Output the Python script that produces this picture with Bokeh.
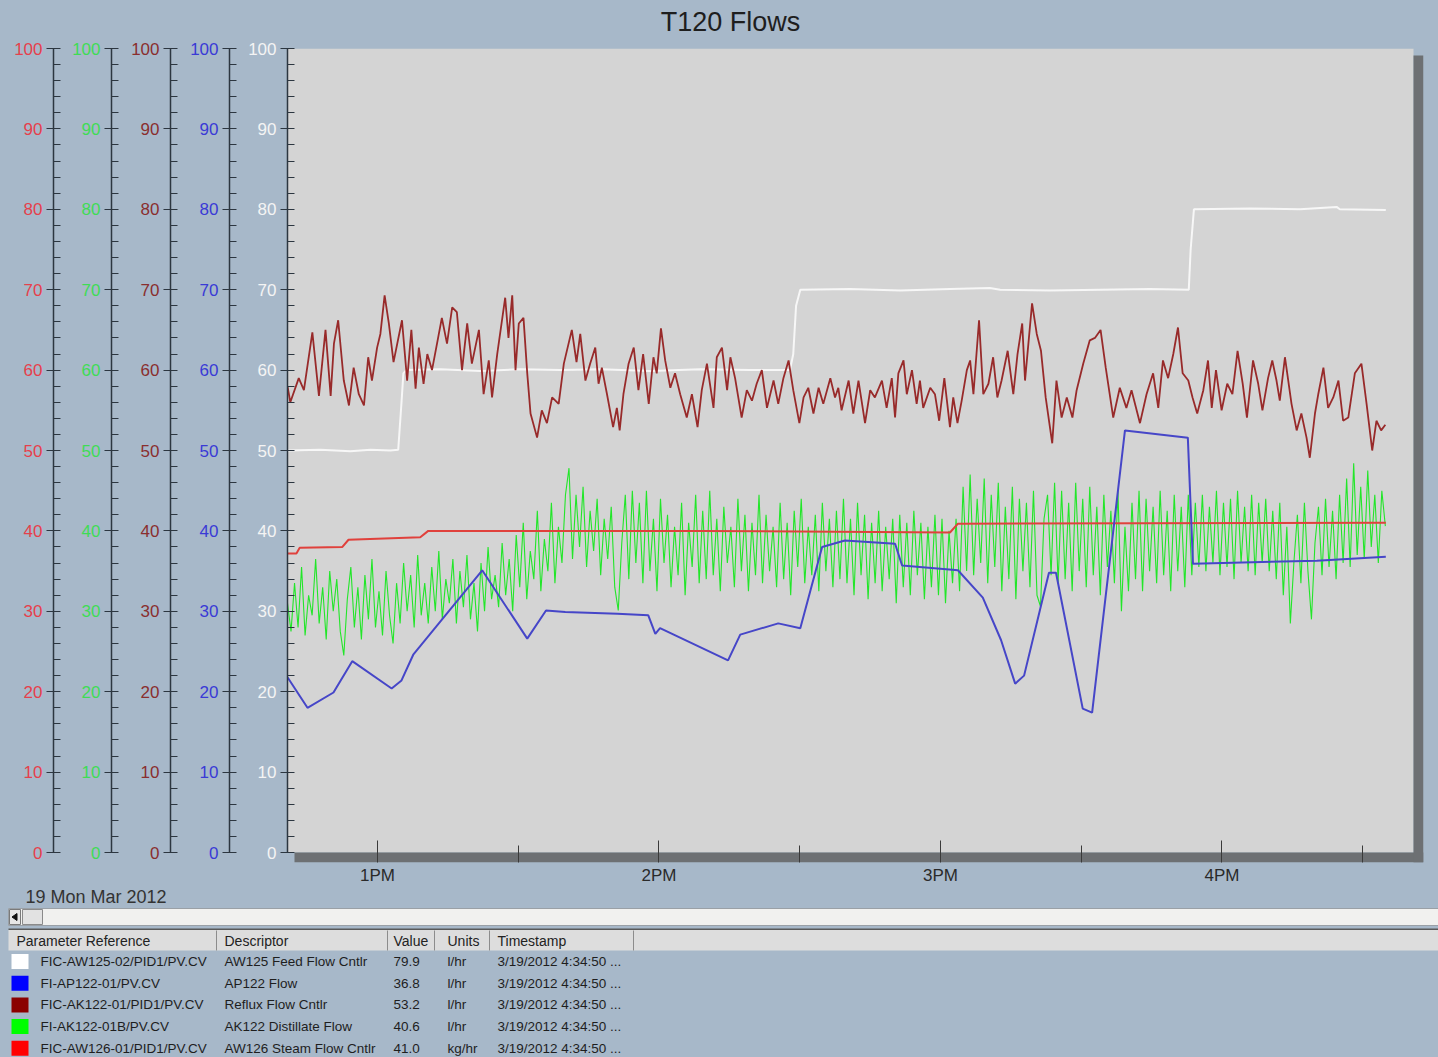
import numpy as np
from bokeh.plotting import figure
from bokeh.layouts import column, row
from bokeh.models import Range1d, FixedTicker, BoxAnnotation
from bokeh.embed import file_html
from bokeh.resources import INLINE
from bokeh.core.properties import value

# ------------------------------------------------------------------ data
chart_title = "T120 Flows"
date_text = "19 Mon Mar 2012"

START_HOUR = 12 + 40 / 60 + 50 / 3600     # 12:40:50, left edge of the window
WINDOW_HOURS = 4.0

# AW125 Feed Flow Cntlr (white)  - minutes after window start / value
feed_min = [0, 7.0, 13.4, 17.7, 21.9, 23.6, 24.3, 24.7, 25.3, 32.6, 41.1, 49.6, 58.1, 66.7, 77.3,
            88.0, 98.6, 107.1, 107.8, 108.4, 109.3, 119.9, 130.6, 141.2, 149.7, 151.9, 162.5,
            173.2, 183.8, 192.1, 192.5, 193.2, 205.1, 215.8, 223.6, 224.3, 234.1]
feed_val = [50.0, 50.1, 49.9, 50.1, 50.0, 50.1, 56.0, 59.6, 60.0, 60.1, 59.9, 60.1, 60.0, 60.1, 59.9,
            60.1, 60.0, 60.0, 62.0, 68.0, 70.0, 70.1, 69.9, 70.1, 70.2, 70.0, 69.9,
            70.0, 70.1, 70.0, 75.0, 80.0, 80.1, 80.0, 80.3, 80.0, 79.9]

# AP122 Flow (blue)
ap122_min = [0, 4.26, 9.8, 13.8, 22.2, 24.3, 26.8, 41.5, 51.1, 55.1, 59.2, 70.3, 76.9, 78.4, 79.4,
             93.9, 96.5, 104.6, 109.3, 113.95, 118.8, 129.5, 131.0, 142.9, 148.2, 152.1, 155.1,
             157.0, 162.3, 163.8, 169.5, 171.5, 178.5, 191.9, 193.0, 219.4, 234.1]
ap122_val = [21.8, 18.0, 19.9, 23.8, 20.4, 21.4, 24.6, 35.1, 26.6, 30.1, 29.9, 29.7, 29.5, 27.2, 27.9,
             23.9, 27.1, 28.5, 27.9, 38.0, 38.8, 38.4, 35.7, 35.1, 31.7, 26.4, 21.0,
             22.0, 34.8, 34.8, 17.9, 17.4, 52.5, 51.6, 35.9, 36.3, 36.8]

# Reflux Flow Cntlr (dark red)
reflux_min = [0.0, 0.6, 2.4, 3.5, 5.3, 6.7, 8.1, 9.2, 9.9, 10.8, 12.0, 13.1, 14.1, 15.2, 16.3, 17.2,
              18.0, 19.1, 19.8, 20.7, 21.6, 22.6, 24.4, 25.5, 26.4, 27.3, 28.0, 29.0, 29.8, 30.8,
              32.1, 32.9, 34.0, 35.1, 36.1, 37.2, 38.3, 39.3, 40.8, 41.8, 42.9, 43.6, 44.7, 46.4,
              47.1, 47.9, 48.6, 49.3, 50.3, 51.1, 51.8, 53.2, 54.2, 55.3, 56.4, 57.8, 58.9,
              60.6, 61.6, 62.4, 63.5, 64.5, 65.6, 66.3, 67.0, 68.1, 69.4, 70.2, 70.8, 71.6, 72.7,
              73.8, 74.8, 75.8, 77.0, 78.0, 78.7, 79.6, 80.5, 81.6, 82.6, 83.7, 85.1, 86.2, 87.4,
              88.3, 89.4, 90.8, 91.5, 92.6, 93.7, 94.4, 95.4, 96.8, 97.9, 99.0, 100.0, 101.1, 102.2,
              103.6, 104.6, 105.7, 106.8, 107.8, 109.1, 110.0, 111.0, 112.1, 113.2, 114.2, 115.7, 116.7,
              117.4, 118.1, 119.6, 120.6, 121.7, 123.1, 124.2, 125.2, 126.7, 127.7, 128.8, 129.5,
              130.2, 131.3, 132.0, 133.1, 134.1, 134.8, 135.5, 137.0, 138.0, 138.9, 140.0, 141.2,
              141.9, 142.8, 143.7, 144.8, 145.5, 146.2, 147.4, 148.3, 149.4, 150.4, 151.3, 152.2,
              153.5, 154.7, 155.6, 156.6, 157.2, 158.7, 159.7, 160.6, 161.6, 163.0, 163.9, 165.0,
              166.1, 167.3, 168.2, 169.6, 171.0, 172.1, 173.3, 174.4, 176.0,
              177.4, 178.8, 179.9, 181.7, 183.1, 184.5, 185.6, 186.6, 187.7, 188.8, 189.8, 190.8,
              192.0, 192.9, 193.9, 195.2, 196.2, 197.0, 197.9, 199.1, 200.3, 201.4, 202.5, 203.6,
              204.5, 205.8, 206.9, 207.8, 209.0, 209.9, 210.8, 211.5, 212.6, 214.0, 215.1, 216.1,
              217.2, 217.9, 219.0, 219.7, 220.8, 221.8, 222.9, 224.0, 225.0, 226.1, 227.5, 228.9,
              230.0, 231.2, 232.1, 233.1, 234.0]
reflux_val = [58.0, 56.0, 59.0, 57.5, 64.7, 56.8, 65.0, 56.8, 63.3, 66.2, 58.7, 55.6, 60.3, 57.0, 55.6, 61.6,
              58.7, 62.8, 64.5, 69.3, 65.8, 61.0, 66.2, 58.7, 65.0, 57.7, 62.8, 58.3, 62.0, 60.0,
              64.0, 66.5, 63.3, 67.8, 67.2, 60.0, 65.8, 60.8, 65.0, 57.0, 61.2, 56.6, 62.0, 69.0,
              64.0, 69.3, 60.0, 65.8, 66.5, 59.6, 54.6, 51.6, 55.0, 53.4, 56.6, 55.8, 60.8,
              65.0, 61.0, 64.5, 58.7, 60.8, 62.8, 58.3, 60.3, 57.0, 52.9, 55.3, 52.5, 57.0, 60.8,
              62.8, 57.5, 62.0, 55.8, 61.6, 59.6, 65.2, 61.2, 57.8, 59.6, 57.0, 54.1, 57.0, 52.9,
              57.5, 60.8, 55.3, 61.6, 62.8, 57.5, 61.6, 59.0, 54.1, 57.5, 56.2, 58.3, 60.0, 55.3,
              58.7, 55.8, 59.0, 61.2, 57.5, 53.4, 56.6, 57.8, 54.6, 57.8, 55.8, 59.0, 56.6,
              57.8, 55.0, 58.7, 54.6, 58.7, 53.4, 57.5, 56.6, 58.7, 55.3, 59.0, 54.1,
              59.6, 61.2, 57.0, 60.0, 55.8, 58.7, 55.3, 57.8, 57.0, 53.7, 59.0, 52.9,
              56.6, 53.4, 56.2, 60.0, 61.2, 57.0, 66.2, 57.0, 58.3, 61.6, 56.6, 58.7,
              62.4, 57.0, 62.0, 65.8, 58.7, 68.3, 64.5, 62.4, 56.6, 50.9, 58.7, 54.1,
              56.6, 54.1, 57.5, 60.8, 63.7, 64.0, 65.0, 60.3, 54.1,
              57.8, 55.3, 57.5, 53.4, 57.0, 59.6, 55.3, 61.2, 59.0, 62.0, 65.3, 59.6,
              58.7, 56.6, 54.6, 57.5, 61.2, 55.3, 60.0, 55.0, 58.3, 57.0, 62.4, 58.3,
              54.1, 61.2, 58.3, 55.0, 59.0, 61.2, 58.7, 56.2, 61.6, 55.8, 52.5, 54.6,
              51.6, 49.1, 54.6, 57.0, 60.3, 55.3, 56.6, 58.7, 53.7, 54.1, 59.6, 60.8,
              55.8, 50.0, 53.7, 52.5, 53.2]

# AK122 Distillate Flow (green) - one reading every 45 s from window start
distillate_step_min = 0.75
distillate_val = [
    31.0, 27.5, 33.5, 28.0, 35.5, 27.0, 32.0, 29.5, 36.5, 28.5, 33.0, 26.5, 35.0, 30.0, 34.0, 27.5, 24.5, 31.5, 35.5, 28.0,
    33.0, 26.5, 34.5, 29.0, 36.5, 28.0, 32.5, 27.0, 35.0, 29.5, 26.0, 33.5, 28.5, 36.0, 30.0, 34.5, 28.0, 37.0, 29.5, 33.5,
    28.5, 35.5, 30.0, 37.5, 29.0, 34.0, 31.0, 36.5, 28.5, 35.0, 30.5, 37.0, 29.0, 33.5, 27.5, 36.0, 30.0, 38.0, 31.5, 34.5,
    30.5, 38.5, 32.0, 36.5, 30.0, 39.5, 33.0, 41.0, 31.5, 37.5, 34.0, 42.5, 32.5, 39.0, 35.0, 43.5, 33.5, 40.5, 36.0, 44.5,
    47.8, 36.5, 44.5, 38.0, 45.5, 35.5, 42.5, 37.5, 44.0, 34.5, 41.5, 36.5, 43.0, 33.0, 30.1, 38.5, 44.5, 34.0, 45.0, 36.0,
    43.5, 33.5, 45.0, 35.0, 41.5, 32.5, 44.0, 36.0, 42.0, 33.0, 40.5, 34.5, 43.5, 32.0, 41.0, 35.5, 44.5, 33.5, 42.5, 34.0,
    45.0, 34.5, 41.5, 32.5, 43.0, 36.0, 40.5, 33.0, 44.0, 35.0, 42.0, 32.5, 41.0, 34.5, 44.5, 33.5, 42.0, 35.0, 40.5, 33.0,
    43.5, 34.0, 41.0, 32.0, 42.5, 35.5, 44.0, 33.5, 40.5, 34.5, 42.0, 32.5, 43.5, 35.0, 41.5, 33.0, 42.5, 34.0, 44.0, 33.5,
    41.5, 32.0, 43.5, 34.5, 42.0, 31.5, 41.0, 33.5, 42.5, 32.5, 40.5, 34.0, 41.5, 31.0, 42.0, 33.0, 41.0, 32.0, 42.5, 34.5,
    41.0, 31.5, 40.5, 33.0, 42.0, 32.0, 41.5, 31.0, 40.0, 33.5, 41.5, 32.5, 45.5, 35.0, 47.0, 34.5, 44.0, 36.0, 46.5, 33.5,
    44.5, 35.5, 46.0, 32.5, 43.0, 34.0, 45.5, 31.5, 44.0, 35.0, 43.5, 33.0, 45.0, 32.0, 30.6, 41.5, 44.5, 34.5, 46.0, 33.5,
    45.0, 34.0, 43.5, 32.5, 46.0, 35.0, 44.0, 33.0, 45.5, 34.5, 43.0, 32.0, 44.5, 35.5, 42.5, 33.5, 45.0, 30.0, 40.5, 32.5,
    43.5, 34.0, 45.0, 32.5, 44.0, 35.0, 43.0, 33.5, 45.0, 34.5, 42.5, 32.5, 44.5, 35.0, 43.0, 33.0, 44.5, 34.5, 43.5, 35.5,
    44.5, 35.0, 43.0, 36.0, 45.0, 34.5, 43.5, 35.5, 44.0, 34.0, 45.0, 36.0, 43.0, 35.0, 44.5, 34.5, 43.5, 36.0, 44.0, 35.0,
    42.5, 34.0, 43.5, 32.0, 40.5, 28.5, 36.0, 42.0, 33.5, 43.5, 35.0, 29.0, 38.5, 43.0, 34.5, 44.0, 35.5, 42.5, 34.0, 44.5,
    36.0, 46.5, 35.5, 48.4, 37.0, 45.5, 36.5, 47.5, 38.0, 44.5, 36.0, 45.0, 40.6]

# AW126 Steam Flow Cntlr (red)
steam_min = [0, 1.9, 2.6, 11.7, 13.0, 28.3, 30.0, 88.0, 141.2, 142.9, 234.1]
steam_val = [37.2, 37.2, 37.9, 38.0, 38.9, 39.2, 40.0, 40.0, 39.8, 40.9, 41.0]

x_ticks = [13, 14, 15, 16]
x_tick_labels = ["1PM", "2PM", "3PM", "4PM"]
x_minor_ticks = [13.5, 14.5, 15.5, 16.5]
y_ticks = list(range(0, 101, 10))
y_minor_ticks = list(range(0, 101, 2))

table_headers = ["Parameter Reference", "Descriptor", "Value", "Units", "Timestamp"]
legend_refs = ["FIC-AW125-02/PID1/PV.CV", "FI-AP122-01/PV.CV", "FIC-AK122-01/PID1/PV.CV",
               "FI-AK122-01B/PV.CV", "FIC-AW126-01/PID1/PV.CV"]
legend_desc = ["AW125 Feed Flow Cntlr", "AP122 Flow", "Reflux Flow Cntlr",
               "AK122 Distillate Flow", "AW126 Steam Flow Cntlr"]
legend_value = ["79.9", "36.8", "53.2", "40.6", "41.0"]
legend_units = ["l/hr", "l/hr", "l/hr", "l/hr", "kg/hr"]
legend_time = ["3/19/2012 4:34:50 ..."] * 5
legend_swatch = ["#ffffff", "#0000ff", "#8b0000", "#00ff00", "#ff0000"]

# ------------------------------------------------------------------ style
FONT = "Liberation Sans"
BG = "#a7b8c9"
PLOT_BG = "#d4d4d4"
SHADOW = "#6d7073"
AXIS = "#2c3640"

PX_PER_H = 1126 / WINDOW_HOURS
PX_PER_UNIT = 8.04
Y_BOTTOM = -10 / PX_PER_UNIT
yr = Range1d(Y_BOTTOM, 100)
TITLE_H = 38
ROW_H = 850
TOP_PAD = 10


def hours(mins):
    return [START_HOUR + m / 60 for m in mins]


def style_yaxis(ax, color):
    ax.ticker = FixedTicker(ticks=y_ticks, minor_ticks=y_minor_ticks)
    ax.bounds = (0, 100)
    ax.axis_line_color = AXIS
    ax.axis_line_width = 1.5
    ax.major_tick_line_color = AXIS
    ax.minor_tick_line_color = AXIS
    ax.major_tick_line_width = 1.2
    ax.major_tick_in = 5
    ax.major_tick_out = 7
    ax.minor_tick_in = 7
    ax.minor_tick_out = 0
    ax.major_label_standoff = 4
    ax.major_label_text_color = color
    ax.major_label_text_font = FONT
    ax.major_label_text_font_size = "17px"


def axis_fig(width, border, color):
    f = figure(width=width, height=ROW_H, x_range=Range1d(0, 1), y_range=yr,
               x_axis_location=None, output_backend="svg", toolbar_location=None,
               min_border_left=border, min_border_right=0, min_border_top=TOP_PAD, min_border_bottom=26,
               background_fill_color=BG, border_fill_color=BG, outline_line_color=None)
    for g in f.grid:
        g.visible = False
    style_yaxis(f.yaxis[0], color)
    return f


red_fig = axis_fig(63, 53, "#e6404c")
green_fig = axis_fig(58, 48, "#3fdc55")
dred_fig = axis_fig(59, 49, "#8a2e2e")
blue_fig = axis_fig(59, 49, "#3a3ad6")

x_end = START_HOUR + 1136 / PX_PER_H
main = figure(width=1199, height=ROW_H, x_range=Range1d(START_HOUR, x_end), y_range=yr,
              output_backend="svg", toolbar_location=None,
              min_border_left=48, min_border_right=15, min_border_top=TOP_PAD, min_border_bottom=26,
              background_fill_color=BG, border_fill_color=BG, outline_line_color=None)
for g in main.grid:
    g.visible = False
style_yaxis(main.yaxis[0], "#f4f4f4")

xa = main.xaxis[0]
xa.ticker = FixedTicker(ticks=x_ticks, minor_ticks=x_minor_ticks)
xa.major_label_overrides = dict(zip(x_ticks, x_tick_labels))
xa.axis_line_color = None
xa.major_tick_line_color = "#3a3a3a"
xa.minor_tick_line_color = "#3a3a3a"
xa.major_tick_in = 22
xa.major_tick_out = 0
xa.minor_tick_in = 17
xa.minor_tick_out = 0
xa.major_label_standoff = 3
xa.major_label_text_font = FONT
xa.major_label_text_font_size = "17px"
xa.major_label_text_color = "#2a2a2a"

main.add_layout(BoxAnnotation(right=START_HOUR + WINDOW_HOURS, bottom=0, fill_color=PLOT_BG,
                              fill_alpha=1, line_color=None, level="underlay"))
main.add_layout(BoxAnnotation(left=START_HOUR + 7 / PX_PER_H, top=0, fill_color=SHADOW,
                              fill_alpha=1, line_color=None, level="underlay"))
main.add_layout(BoxAnnotation(left=START_HOUR + WINDOW_HOURS, top=100 - 7 / PX_PER_UNIT,
                              fill_color=SHADOW, fill_alpha=1, line_color=None, level="underlay"))

dist_min = [i * distillate_step_min for i in range(len(distillate_val))]
main.line(hours(feed_min), feed_val, line_color="#f7f7f7", line_width=2)
main.line(hours(dist_min), distillate_val, line_color="#22e629", line_width=1.1)
main.line(hours(steam_min), steam_val, line_color="#e0413c", line_width=2)
main.line(hours(reflux_min), reflux_val, line_color="#982a2a", line_width=1.8)
main.line(hours(ap122_min), ap122_val, line_color="#4646c8", line_width=2)

# ------------------------------------------------------------------ title strip
title_fig = figure(width=1438, height=TITLE_H, x_range=Range1d(0, 1438), y_range=Range1d(TITLE_H, 0),
                   x_axis_location=None, y_axis_location=None, min_border=0,
                   output_backend="svg", toolbar_location=None,
                   background_fill_color=BG, border_fill_color=BG, outline_line_color=None)
for g in title_fig.grid:
    g.visible = False
title_fig.text(x=[730], y=[21], text=[chart_title], text_align="center", text_baseline="middle",
               text_font=value(FONT), text_font_size="27px", text_color="#1e1e1e")

# ------------------------------------------------------------------ bottom: date, scrollbar, table
BOT_H = 169
bf = figure(width=1438, height=BOT_H, x_range=Range1d(0, 1438), y_range=Range1d(BOT_H, 0),
            x_axis_location=None, y_axis_location=None, min_border=0,
            output_backend="svg", toolbar_location=None,
            background_fill_color=BG, border_fill_color=BG, outline_line_color=None)
for g in bf.grid:
    g.visible = False

bf.text(x=[25], y=[8], text=[date_text], text_align="left", text_baseline="middle",
        text_font=value(FONT), text_font_size="18px", text_color="#333333")

# scrollbar
bf.quad(left=[8], right=[1438], top=[20], bottom=[37], fill_color="#f1f1ef", line_color="#9aa0a6")
bf.quad(left=[9], right=[20], top=[21], bottom=[36], fill_color="#e6e6e6", line_color="#7a7a7a")
bf.patch(x=[11.5, 16.5, 16.5], y=[28.5, 25, 32], fill_color="#111111", line_color="#111111")
bf.quad(left=[22], right=[42], top=[21], bottom=[36], fill_color="#e2e2e2", line_color="#8a8a8a")

# table header
bf.quad(left=[8], right=[1438], top=[40], bottom=[41.5], fill_color="#5a5a5a", line_color=None)
bf.quad(left=[8], right=[1438], top=[41.5], bottom=[62], fill_color="#dddddd", line_color=None)
seps = [216, 387, 434, 489, 633]
bf.segment(x0=seps, y0=[42] * len(seps), x1=seps, y1=[62] * len(seps), line_color="#8c8c8c", line_width=1)
col_x = [16, 224, 393, 447, 497]
bf.text(x=col_x, y=[52] * len(col_x), text=table_headers, text_align="left", text_baseline="middle",
        text_font=value(FONT), text_font_size="14px", text_color="#222222")

row_y = [73 + 21.7 * i for i in range(len(legend_refs))]
bf.rect(x=[19.5] * len(row_y), y=row_y, width=17, height=15, fill_color=legend_swatch, line_color=None)
for xpos, texts in zip([40, 224, 393, 447, 497],
                       [legend_refs, legend_desc, legend_value, legend_units, legend_time]):
    bf.text(x=[xpos] * len(texts), y=row_y, text=texts, text_align="left", text_baseline="middle",
            text_font=value(FONT), text_font_size="13.5px", text_color="#1e1e1e")

layout = column(title_fig, row(red_fig, green_fig, dred_fig, blue_fig, main), bf)
page_template = "{% block preamble %}<style>html, body { background-color: " + BG + "; }</style>{% endblock %}"
open("out.html", "w").write(file_html(layout, INLINE, template=page_template))
